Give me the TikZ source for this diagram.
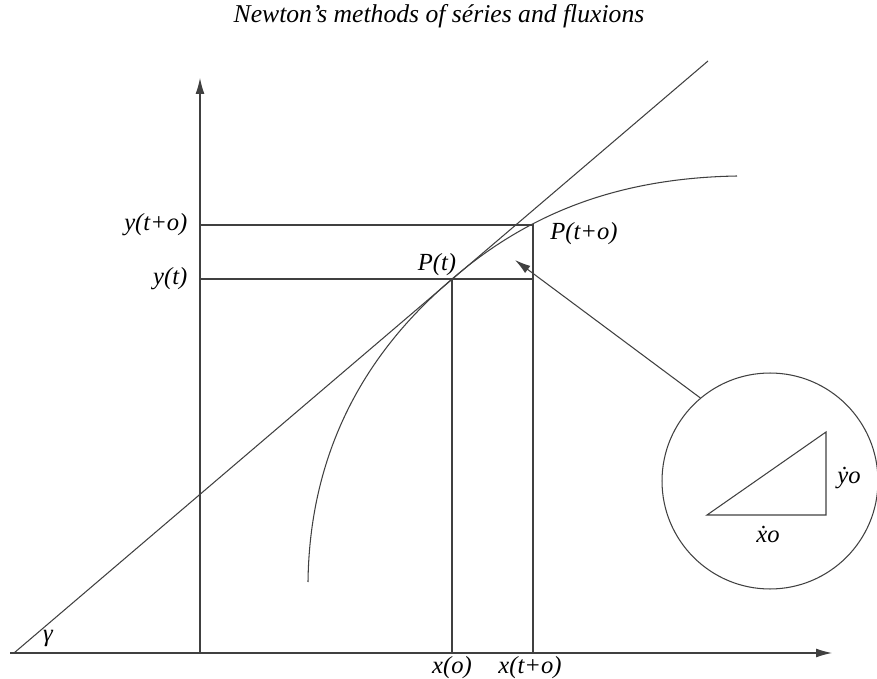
\documentclass[tikz,border=0pt]{standalone}
\usepackage{fontspec}
\setmainfont{Liberation Serif}
\usetikzlibrary{arrows.meta}

\begin{document}
\begin{tikzpicture}[x=0.02cm,y=-0.02cm,
  ln/.style={draw=black!75,line width=0.6pt},
  tip/.style={-{Latex[length=9pt,width=5pt]}},
  lbl/.style={font=\fontsize{14}{16}\selectfont\itshape,inner sep=1pt},
  ttl/.style={font=\fontsize{14.6}{16}\selectfont\itshape}
]
\useasboundingbox (0,0) rectangle (877,679);

% ---- Title --------------------------------------------------
\node[ttl] (title) at (439,16) {Newton's methods of séries and fluxions};

% ---- Axes ---------------------------------------------------
\coordinate (xstart) at (10,653);
\coordinate (xend)   at (832,653);
\coordinate (O)      at (200,653);
\coordinate (ytop)   at (200,78);
\draw[ln,tip] (xstart) -- (xend);
\draw[ln,tip] (O) -- (ytop);

% ---- Points on the curve ------------------------------------
\coordinate (Pt)  at (452,279);
\coordinate (Pto) at (533,225);
\coordinate (yt)  at (200,279);
\coordinate (yto) at (200,225);
\coordinate (xt)  at (452,653);
\coordinate (xto) at (533,653);

\draw[ln] (yto) -- (Pto) -- (xto);
\draw[ln] (yt) -- (Pto |- yt);
\draw[ln] (Pt) -- (xt);

% ---- Tangent and curve --------------------------------------
\coordinate (T0) at (14,653);
\coordinate (T1) at (708,61);
\draw[ln] (T0) -- (T1);
\coordinate (C0) at (308,582);
\coordinate (C1) at (737,176);
\draw[ln] (C0) .. controls (310,420) and (395,328) .. (Pt)
               .. controls (530,212) and (620,178) .. (C1);

% ---- Labels -------------------------------------------------
\node[lbl,left=6pt] (lyto) at (yto) {y(t+o)};
\node[lbl,left=6pt] (lyt)  at (yt)  {y(t)};
\node[lbl] (lPt)  at (437,265) {P(t)};
\node[lbl] (lPto) at (584,234) {P(t+o)};
\node[lbl] (lxt)  at (452,668) {x(o)};
\node[lbl] (lxto) at (530,668) {x(t+o)};
\node[lbl] (gam)  at (48,638)  {γ};

% ---- Magnified triangle -------------------------------------
\node[circle,draw=black!75,line width=0.6pt,minimum size=4.32cm,inner sep=0pt] (mag) at (770,481) {};
\coordinate (ptip) at (515,260);
\draw[ln,tip] (mag.130) -- (ptip);

\coordinate (A) at (707,515);
\coordinate (B) at (826,515);
\coordinate (C) at (826,432);
\draw[ln] (A) -- (B) -- (C) -- cycle;
\node[lbl] (ldy) at (849,478) {\.{y}o};
\node[lbl] (ldx) at (768,534) {\.{x}o};

\end{tikzpicture}
\end{document}
